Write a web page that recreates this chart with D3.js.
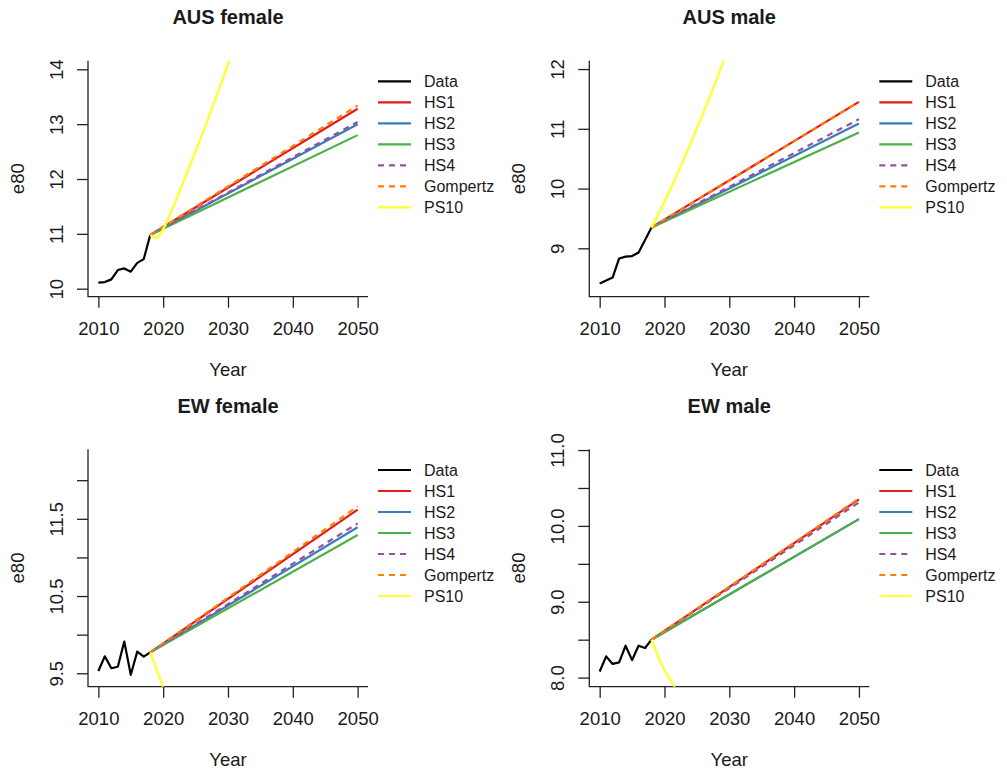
<!DOCTYPE html>
<html>
<head>
<meta charset="utf-8">
<script src="https://cdn.jsdelivr.net/npm/d3@7"></script>
<style>
  body { margin: 0; background: #fff; }
  svg { display: block; }
  text { font-family: "Liberation Sans", Arial, Helvetica, sans-serif; fill: #1a1a1a; }
</style>
</head>
<body>
<svg id="chart" width="1007" height="770"></svg>
<script>
// ---- data -------------------------------------------------------------
const panelTitles = ["AUS female", "AUS male", "EW female", "EW male"];

// observed e80, 2010-2018
const dataYears = [2010, 2011, 2012, 2013, 2014, 2015, 2016, 2017, 2018];
const dataAusF = [10.11, 10.12, 10.17, 10.34, 10.37, 10.31, 10.47, 10.54, 10.98];
const dataAusM = [8.41, 8.46, 8.51, 8.83, 8.86, 8.87, 8.93, 9.14, 9.35];
const dataEwF  = [9.53, 9.72, 9.565, 9.585, 9.91, 9.48, 9.78, 9.715, 9.77];
const dataEwM  = [8.08, 8.28, 8.18, 8.20, 8.42, 8.23, 8.42, 8.39, 8.50];

// projected e80 in 2050 (projections start from the 2018 observation)
const projNames = ["HS1", "HS2", "HS3", "HS4", "Gompertz"];
const projYears = [2018, 2050];
const proj2050AusF = [13.28, 13.00, 12.80, 13.04, 13.34];
const proj2050AusM = [11.45, 11.09, 10.94, 11.16, 11.45];
const proj2050EwF  = [11.62, 11.39, 11.29, 11.44, 11.66];
const proj2050EwM  = [10.35, 10.09, 10.09, 10.31, 10.36];

// PS10 projections
const ps10YearsAusF = [2018, 2019, 2020, 2021, 2022, 2023, 2024, 2025, 2026, 2027, 2028, 2029, 2030, 2031];
const ps10AusF = [10.98, 10.93, 11.08, 11.34, 11.62, 11.91, 12.21, 12.51, 12.81, 13.12, 13.44, 13.76, 14.09, 14.42];
const ps10YearsAusM = [2018, 2019, 2020, 2021, 2022, 2023, 2024, 2025, 2026, 2027, 2028, 2029, 2030];
const ps10AusM = [9.35, 9.56, 9.78, 10.01, 10.25, 10.50, 10.75, 11.01, 11.27, 11.54, 11.82, 12.10, 12.38];
const ps10YearsEwF = [2018, 2019, 2020, 2021];
const ps10EwF = [9.77, 9.55, 9.31, 9.08];
const ps10YearsEwM = [2018, 2019, 2020, 2021, 2022];
const ps10EwM = [8.50, 8.28, 8.10, 7.96, 7.80];

// axes
const xTicks = [2010, 2020, 2030, 2040, 2050];
const xLimits = [2008.4, 2051.6];
const yLimitsAll = [[9.854, 14.157], [8.19, 12.14], [9.326, 12.40], [7.88, 11.01]];
const yTicksAll = [
  [10, 11, 12, 13, 14],
  [9, 10, 11, 12],
  [9.5, 10, 10.5, 11, 11.5, 12],
  [8, 8.5, 9, 9.5, 10, 10.5, 11]
];
const yTickLabelsAll = [
  ["10", "11", "12", "13", "14"],
  ["9", "10", "11", "12"],
  ["9.5", "", "10.5", "", "11.5", ""],
  ["8.0", "", "9.0", "", "10.0", "", "11.0"]
];

// legend
const legendNames = ["Data", "HS1", "HS2", "HS3", "HS4", "Gompertz", "PS10"];

// ---- styling ----------------------------------------------------------
const colors = {
  Data: "#000000", HS1: "#E41A1C", HS2: "#377EB8", HS3: "#4DAF4A",
  HS4: "#984EA3", Gompertz: "#FF7F00", PS10: "#FFFF33"
};
const dashes = { HS4: "6,5", Gompertz: "6,5" };

const boxes = [
  { x0: 88,    x1: 368,   y0: 60.7,  y1: 296.7 },
  { x0: 589.3, x1: 869.3, y0: 60.7,  y1: 296.7 },
  { x0: 88,    x1: 368,   y0: 449.3, y1: 686.7 },
  { x0: 589.3, x1: 869.3, y0: 449.3, y1: 686.7 }
];

const observed = [dataAusF, dataAusM, dataEwF, dataEwM];
const proj2050 = [proj2050AusF, proj2050AusM, proj2050EwF, proj2050EwM];
const ps10Years = [ps10YearsAusF, ps10YearsAusM, ps10YearsEwF, ps10YearsEwM];
const ps10Vals = [ps10AusF, ps10AusM, ps10EwF, ps10EwM];

const svg = d3.select("#chart");
const axisColor = "#222";

boxes.forEach((b, i) => {
  const x = d3.scaleLinear().domain(xLimits).range([b.x0, b.x1]);
  const y = d3.scaleLinear().domain(yLimitsAll[i]).range([b.y1, b.y0]);
  const g = svg.append("g");

  // clip region = plotting area
  const clipId = "clip" + i;
  svg.append("clipPath").attr("id", clipId)
    .append("rect").attr("x", b.x0).attr("y", b.y0)
    .attr("width", b.x1 - b.x0).attr("height", b.y1 - b.y0);

  // L-shaped frame
  g.append("path")
    .attr("d", `M${b.x0},${b.y0}V${b.y1}H${b.x1}`)
    .attr("fill", "none").attr("stroke", axisColor).attr("stroke-width", 1.3);

  // x axis ticks + labels
  const xAxis = d3.axisBottom(x).tickValues(xTicks).tickFormat(d3.format("d"))
    .tickSize(11).tickPadding(6);
  const gx = g.append("g").attr("transform", `translate(0,${b.y1})`).call(xAxis);
  gx.select(".domain").remove();
  gx.selectAll(".tick line").attr("stroke", axisColor).attr("stroke-width", 1.3);
  gx.selectAll(".tick text").attr("font-size", "18.5px").attr("fill", "#1a1a1a")
    .attr("y", 38.5).attr("dy", 0);

  // y axis ticks + rotated labels
  const yAxis = d3.axisLeft(y).tickValues(yTicksAll[i])
    .tickFormat((d, k) => yTickLabelsAll[i][k]).tickSize(11);
  const gy = g.append("g").attr("transform", `translate(${b.x0},0)`).call(yAxis);
  gy.select(".domain").remove();
  gy.selectAll(".tick line").attr("stroke", axisColor).attr("stroke-width", 1.3);
  gy.selectAll(".tick text")
    .attr("font-size", "18.5px").attr("fill", "#1a1a1a")
    .attr("x", null).attr("dy", null)
    .attr("text-anchor", "middle")
    .attr("transform", "translate(-25,0) rotate(-90)");

  // axis titles
  g.append("text").attr("x", (b.x0 + b.x1) / 2).attr("y", b.y1 + 79)
    .attr("text-anchor", "middle").attr("font-size", "18.5px").text("Year");
  g.append("text")
    .attr("transform", `translate(${b.x0 - 64.5},${(b.y0 + b.y1) / 2}) rotate(-90)`)
    .attr("text-anchor", "middle").attr("font-size", "18.5px").text("e80");

  // panel title
  g.append("text").attr("x", (b.x0 + b.x1) / 2).attr("y", b.y0 - 36.5)
    .attr("text-anchor", "middle").attr("font-size", "20px").attr("font-weight", "bold")
    .text(panelTitles[i]);

  // series
  const line = d3.line().x(d => x(d[0])).y(d => y(d[1]));
  const plot = g.append("g").attr("clip-path", `url(#${clipId})`);

  const obs = observed[i];
  plot.append("path").datum(dataYears.map((yr, k) => [yr, obs[k]]))
    .attr("d", line).attr("fill", "none").attr("stroke", colors.Data)
    .attr("stroke-width", 2.2).attr("stroke-linejoin", "round");

  const start = obs[obs.length - 1];
  projNames.forEach((name, k) => {
    plot.append("path").datum([[projYears[0], start], [projYears[1], proj2050[i][k]]])
      .attr("d", line).attr("fill", "none").attr("stroke", colors[name])
      .attr("stroke-width", 2.2)
      .attr("stroke-dasharray", dashes[name] || null);
  });

  plot.append("path").datum(ps10Years[i].map((yr, k) => [yr, ps10Vals[i][k]]))
    .attr("d", d3.line().curve(d3.curveMonotoneX).x(d => x(d[0])).y(d => y(d[1])))
    .attr("fill", "none").attr("stroke", colors.PS10).attr("stroke-width", 2.4);

  // legend
  const lg = g.append("g");
  legendNames.forEach((name, k) => {
    const ly = b.y0 + 20.7 + k * 21;
    lg.append("line").attr("x1", b.x1 + 10).attr("x2", b.x1 + 43)
      .attr("y1", ly).attr("y2", ly)
      .attr("stroke", colors[name]).attr("stroke-width", 2.2)
      .attr("stroke-dasharray", dashes[name] || null);
    lg.append("text").attr("x", b.x1 + 56).attr("y", ly + 5.5)
      .attr("font-size", "16px").text(name);
  });
});
</script>
</body>
</html>
